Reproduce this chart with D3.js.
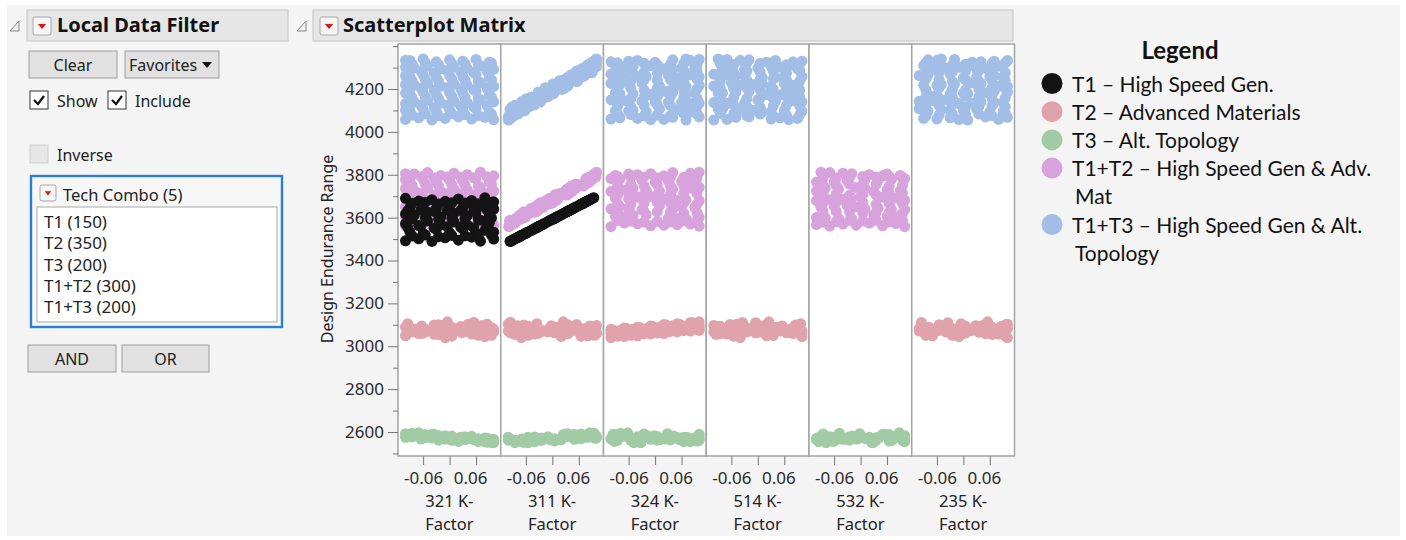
<!DOCTYPE html>
<html>
<head>
<meta charset="utf-8">
<script src="https://cdn.jsdelivr.net/npm/d3@7"></script>
<style>
  body { margin: 0; background: #fff; }
  svg { display: block; }
  text { font-family: "Noto Sans", "DejaVu Sans", sans-serif; fill: #222; }
</style>
</head>
<body>
<div id="vis"></div>
<script>
// ---- data ----
const kNames = ["321", "311", "324", "514", "532", "235"];
const yTicks = [2600, 2800, 3000, 3200, 3400, 3600, 3800, 4000, 4200];
const yMinor = [2500, 2700, 2900, 3100, 3300, 3500, 3700, 3900, 4100, 4300, 4400];
const xTicks = [-0.06, 0, 0.06];
const xTickText = ["-0.06", "", "0.06"];
const filterItems = ["T1 (150)", "T2 (350)", "T3 (200)", "T1+T2 (300)", "T1+T3 (200)"];
const legendLines = [
  ["T1 \u2013 High Speed Gen."],
  ["T2 \u2013 Advanced Materials"],
  ["T3 \u2013 Alt. Topology"],
  ["T1+T2 \u2013 High Speed Gen & Adv.", "Mat"],
  ["T1+T3 \u2013 High Speed Gen & Alt.", "Topology"]
];

// rows: [Design Endurance Range, K-factor values for the columns listed]
const t1Cols = ["321", "311"];
const t1 = [
  [3492,-0.10,-0.093],[3501,-0.07,-0.085],[3489,-0.04,-0.096],[3506,-0.01,-0.080],[3495,0.02,-0.090],[3509,0.05,-0.077],[3490,0.07,-0.095],[3500,0.10,-0.086],
  [3534,-0.09,-0.054],[3526,-0.06,-0.061],[3545,-0.03,-0.044],[3530,0.00,-0.058],[3548,0.03,-0.041],[3528,0.06,-0.060],[3541,0.08,-0.047],[3532,0.10,-0.056],
  [3572,-0.10,-0.019],[3563,-0.07,-0.027],[3585,-0.05,-0.007],[3568,-0.02,-0.022],[3580,0.01,-0.011],[3566,0.04,-0.024],[3588,0.07,-0.004],[3575,0.09,-0.016],
  [3612,-0.08,0.019],[3625,-0.05,0.031],[3603,-0.02,0.010],[3620,0.01,0.026],[3608,0.04,0.015],[3628,0.06,0.033],[3606,0.09,0.013],[3617,-0.10,0.023],
  [3648,-0.09,0.052],[3660,-0.06,0.063],[3642,-0.03,0.047],[3655,0.00,0.059],[3645,0.03,0.049],[3663,0.05,0.066],[3651,0.08,0.055],[3640,0.10,0.045],
  [3690,-0.10,0.091],[3678,-0.07,0.080],[3684,-0.04,0.086],[3676,-0.01,0.078],[3687,0.02,0.088],[3680,0.05,0.082],[3693,0.08,0.094],[3674,0.10,0.076],
  [3514,-0.085,-0.073],[3519,-0.055,-0.068],[3511,-0.025,-0.075],[3517,0.005,-0.070],[3515,0.035,-0.072],[3512,0.065,-0.074],[3518,0.095,-0.069],
  [3555,-0.095,-0.034],[3560,-0.065,-0.030],[3552,-0.035,-0.037],[3558,-0.005,-0.032],[3556,0.025,-0.033],[3553,0.055,-0.036],[3559,0.085,-0.031],
  [3595,-0.085,0.003],[3600,-0.055,0.007],[3592,-0.025,0.000],[3598,0.005,0.006],[3596,0.035,0.004],[3593,0.065,0.001],[3599,0.095,0.007],
  [3632,-0.095,0.037],[3637,-0.065,0.042],[3629,-0.035,0.034],[3635,-0.005,0.040],[3633,0.025,0.038],[3630,0.055,0.035],[3636,0.085,0.041],
  [3667,-0.085,0.070],[3672,-0.055,0.074],[3664,-0.025,0.067],[3670,0.005,0.073],[3668,0.035,0.071],[3665,0.065,0.068],[3671,0.095,0.073]
];

const t2Cols = ["321", "311", "324", "514", "235"];
const t2 = [
  [3040,-0.01,-0.07,-0.10,-0.04,0.10],[3045,0.08,0.02,-0.07,0.10,-0.01],[3049,-0.10,0.08,-0.04,0.02,-0.07],[3057,0.05,-0.04,-0.01,-0.07,0.08],
  [3059,-0.07,0.10,0.02,0.08,0.05],[3067,0.10,-0.01,0.05,-0.10,-0.04],[3071,-0.04,-0.10,0.08,0.05,-0.10],[3074,0.02,0.05,0.10,-0.01,0.02],
  [3051,0.065,0.095,-0.09,0.035,-0.085],[3055,-0.025,-0.085,-0.06,-0.055,0.065],[3063,-0.095,0.005,-0.03,0.065,-0.025],[3067,-0.085,-0.095,0.00,0.005,0.035],
  [3070,0.035,-0.025,0.03,-0.085,0.005],[3079,-0.055,0.065,0.06,0.095,-0.095],[3082,0.095,0.035,0.09,-0.095,-0.055],[3085,0.005,-0.055,0.10,-0.025,0.095],
  [3060,-0.062,-0.032,-0.10,0.1,-0.002],[3064,0.028,0.1,-0.07,-0.002,0.088],[3068,0.088,0.028,-0.05,-0.062,-0.092],[3075,-0.032,-0.062,-0.02,0.088,0.058],
  [3079,0.1,0.088,0.01,0.058,-0.062],[3083,-0.002,-0.092,0.04,-0.032,0.1],[3090,-0.092,0.058,0.07,-0.092,-0.032],[3096,0.058,-0.002,0.10,0.028,0.028],
  [3073,0.1,0.042,-0.08,-0.078,0.072],[3079,-0.078,-0.048,-0.05,0.072,-0.018],[3082,0.012,0.072,-0.02,-0.018,-0.1],[3089,-0.1,0.012,0.01,0.042,-0.078],
  [3096,-0.018,-0.078,0.04,0.012,0.042],[3097,0.072,0.1,0.06,-0.1,-0.048],[3103,0.042,-0.1,0.09,-0.048,0.1],[3071,-0.048,-0.018,-0.10,0.1,0.012],
  [3079,-0.035,0.097,-0.10,-0.005,-0.063],[3085,0.097,-0.005,-0.07,0.085,0.025],[3089,0.025,-0.063,-0.04,-0.095,0.085],[3095,-0.063,0.085,-0.01,0.055,-0.035],
  [3102,0.085,0.055,0.02,-0.063,0.097],[3105,-0.095,-0.035,0.05,0.097,-0.005],[3111,0.055,-0.095,0.08,-0.035,-0.095],[3114,-0.005,0.025,0.10,0.025,0.055],
  [3047,0.005,0.065,-0.085,-0.055,0.095],[3051,0.095,-0.055,-0.055,0.035,-0.025],[3058,-0.025,0.035,-0.025,-0.085,0.065],[3062,0.065,-0.085,0.005,0.095,0.005],
  [3069,-0.055,0.095,0.035,0.005,-0.085],[3073,0.035,-0.025,0.065,0.065,-0.055],[3080,-0.085,0.005,0.095,-0.025,0.035],
  [3056,-0.035,0.025,-0.095,-0.095,-0.005],[3063,0.055,-0.095,-0.065,-0.005,0.085],[3067,-0.005,0.085,-0.035,-0.065,-0.035],[3074,-0.065,-0.035,-0.005,0.025,0.055],
  [3078,0.025,0.055,0.025,-0.035,-0.065],[3085,-0.095,-0.005,0.055,0.085,0.025],[3089,0.085,-0.065,0.085,0.055,-0.095],
  [3066,-0.055,0.095,-0.085,-0.025,0.035],[3073,0.035,-0.025,-0.055,0.065,-0.085],[3078,-0.085,0.065,-0.025,0.005,0.095],[3082,0.095,0.005,0.005,-0.055,-0.025],
  [3089,0.005,-0.085,0.035,0.035,0.065],[3093,0.065,-0.055,0.065,-0.085,0.005],[3100,-0.025,0.035,0.095,0.095,-0.055],
  [3076,-0.095,-0.005,-0.095,0.055,-0.065],[3083,-0.005,0.085,-0.065,-0.065,0.025],[3088,-0.065,-0.035,-0.035,0.025,-0.095],[3092,0.025,0.055,-0.005,-0.095,0.085],
  [3099,-0.035,-0.065,0.025,0.085,-0.005],[3103,0.085,0.025,0.055,-0.035,0.055],[3110,0.055,-0.095,0.085,-0.005,-0.035]
];

const t3Cols = ["321", "311", "324", "532"];
const t3 = [
  [2575,-0.10,-0.10,0.05,0.02],[2578,-0.07,-0.01,-0.04,-0.07],[2589,-0.04,0.08,0.10,0.05],[2567,-0.01,-0.07,-0.10,-0.01],
  [2570,0.02,0.02,0.02,-0.10],[2580,0.05,0.10,-0.07,0.08],[2555,0.08,-0.04,0.08,0.10],[2566,0.10,0.05,-0.01,-0.04],
  [2577,-0.085,-0.04,0.095,-0.085],[2588,-0.055,0.05,-0.085,0.065],[2562,-0.025,-0.10,0.005,-0.025],[2573,0.005,-0.01,-0.095,0.035],
  [2575,0.035,0.08,-0.025,0.005],[2555,0.065,-0.07,0.065,-0.095],[2563,0.095,0.02,0.035,-0.055],[2571,0.085,0.10,-0.055,0.095],
  [2592,-0.10,0.035,0.028,-0.002],[2596,-0.07,0.085,-0.062,0.088],[2572,-0.04,-0.025,0.058,-0.092],[2583,-0.01,0.065,-0.002,0.058],
  [2556,0.02,-0.085,-0.092,-0.062],[2568,0.05,0.005,0.088,0.1],[2572,0.08,0.095,0.1,-0.032],[2550,0.10,-0.055,-0.032,0.028],
  [2594,-0.085,0.095,-0.078,-0.048],[2575,-0.055,-0.055,0.072,0.042],[2583,-0.025,0.035,-0.018,0.1],[2581,0.005,0.085,0.042,-0.018],
  [2565,0.035,-0.025,0.012,-0.1],[2569,0.065,0.065,-0.1,0.012],[2550,0.095,-0.085,-0.048,-0.078],[2562,0.085,0.005,0.1,0.072],
  [2591,-0.085,0.065,-0.025,-0.085],[2574,-0.055,-0.055,0.065,0.005],[2579,-0.025,0.035,0.005,-0.055],[2561,0.005,-0.085,-0.055,0.035],
  [2578,0.035,0.095,0.035,-0.025],[2561,0.065,-0.025,-0.085,0.095],[2558,0.095,0.005,0.095,0.065],
  [2588,-0.095,0.025,-0.065,0.085],[2567,-0.065,-0.095,0.025,-0.035],[2589,-0.035,0.085,-0.095,0.055],[2569,-0.005,-0.035,0.085,-0.005],
  [2575,0.025,0.055,-0.005,-0.095],[2565,0.055,-0.005,0.055,-0.065],[2552,0.085,-0.065,-0.035,0.025]
];

const t12Cols = ["321", "311", "324", "532"];
const t12 = [
  [3562,-0.10,-0.097,-0.01,0.05],[3570,-0.07,-0.090,0.08,-0.04],[3558,-0.04,-0.099,-0.10,0.10],[3567,-0.01,-0.094,0.05,-0.10],
  [3575,0.02,-0.085,-0.07,0.02],[3560,0.05,-0.098,0.10,-0.07],[3572,0.08,-0.092,-0.04,0.08],[3565,0.10,-0.095,0.02,-0.01],
  [3598,-0.09,-0.072,0.03,-0.08],[3606,-0.06,-0.076,-0.09,0.06],[3594,-0.03,-0.070,0.07,-0.02],[3610,0.00,-0.074,-0.05,0.09],
  [3601,0.03,-0.062,0.10,-0.10],[3613,0.06,-0.073,-0.02,0.03],[3596,0.09,-0.083,0.05,-0.05],[3604,-0.10,-0.063,-0.07,0.07],
  [3641,-0.08,-0.031,-0.10,0.01],[3652,-0.05,-0.038,0.06,-0.06],[3637,-0.02,-0.046,-0.03,0.10],[3648,0.01,-0.021,0.09,-0.09],
  [3644,0.04,-0.048,-0.06,0.04],[3655,0.07,-0.023,0.01,-0.03],[3639,0.10,-0.030,0.04,0.07],[3650,-0.10,-0.036,-0.08,-0.01],
  [3683,-0.09,0.009,0.07,-0.07],[3695,-0.06,0.003,-0.04,0.05],[3679,-0.03,-0.015,0.10,-0.10],[3691,0.00,0.014,-0.09,0.08],
  [3686,0.03,-0.001,0.02,-0.04],[3698,0.06,0.015,-0.01,0.00],[3681,0.09,0.009,0.05,0.10],[3689,-0.10,-0.008,-0.06,-0.02],
  [3726,-0.08,0.030,-0.02,0.09],[3738,-0.05,0.054,0.08,-0.08],[3722,-0.02,0.045,-0.10,0.03],[3733,0.01,0.034,0.04,-0.05],
  [3729,0.04,0.044,-0.07,0.06],[3741,0.07,0.046,0.10,-0.01],[3724,0.10,0.045,0.01,-0.10],[3736,-0.10,0.035,-0.05,0.01],
  [3768,-0.09,0.081,0.06,-0.06],[3779,-0.06,0.076,-0.08,0.07],[3764,-0.03,0.083,0.09,-0.09],[3775,0.00,0.077,-0.03,0.04],
  [3771,0.03,0.086,0.03,-0.03],[3782,0.06,0.077,-0.10,0.10],[3766,0.09,0.076,0.00,-0.10],[3777,-0.10,0.090,0.07,0.01],
  [3803,-0.08,0.095,-0.06,0.06],[3810,-0.05,0.100,0.04,-0.07],[3797,-0.02,0.092,-0.09,0.09],[3807,0.01,0.098,0.08,-0.04],
  [3800,0.04,0.094,-0.04,0.02],[3812,0.07,0.100,0.10,-0.09],[3795,0.10,0.090,0.02,0.05],[3805,-0.10,0.097,-0.01,-0.02],
  [3582,-0.085,-0.083,0.005,-0.055],[3588,-0.055,-0.096,0.095,0.035],[3579,-0.025,-0.082,-0.025,-0.085],[3586,0.005,-0.084,0.065,0.095],
  [3584,0.035,-0.097,-0.055,0.005],[3580,0.065,-0.083,0.035,0.065],[3587,0.095,-0.093,-0.085,-0.025],
  [3623,-0.095,-0.064,0.095,0.035],[3629,-0.065,-0.037,-0.025,-0.085],[3620,-0.035,-0.051,0.065,0.095],[3627,-0.005,-0.065,0.005,-0.025],
  [3625,0.025,-0.043,-0.085,0.065],[3621,0.055,-0.060,-0.055,0.005],[3628,0.085,-0.036,0.035,-0.055],
  [3665,-0.085,-0.005,-0.085,0.065],[3671,-0.055,-0.020,0.005,-0.055],[3662,-0.025,-0.032,-0.055,0.035],[3669,0.005,0.001,0.035,-0.085],
  [3667,0.035,-0.011,-0.025,0.095],[3663,0.065,-0.009,0.095,-0.025],[3670,0.095,-0.027,0.065,0.005],
  [3708,-0.095,0.009,-0.025,0.005],[3714,-0.065,0.037,0.065,0.095],[3705,-0.035,0.033,0.005,-0.025],[3712,-0.005,0.017,-0.055,0.065],
  [3710,0.025,0.029,0.035,-0.055],[3706,0.055,0.006,-0.085,0.035],[3713,0.085,0.038,0.095,-0.085],
  [3750,-0.085,0.069,0.065,0.095],[3756,-0.055,0.052,-0.055,-0.025],[3747,-0.025,0.070,0.035,0.065],[3754,0.005,0.057,-0.085,0.005],
  [3752,0.035,0.065,0.095,-0.085],[3748,0.065,0.043,-0.025,-0.055],[3755,0.095,0.075,0.005,0.035],
  [3787,-0.095,0.082,0.035,-0.085],[3792,-0.065,0.090,-0.085,0.005],[3785,-0.035,0.078,0.095,-0.055],[3790,-0.005,0.099,-0.025,0.035],
  [3788,0.025,0.085,0.065,-0.025],[3786,0.055,0.093,0.005,0.095],[3791,0.085,0.088,-0.055,0.065]
];

const t13Cols = ["321", "311", "324", "514", "235"];
const t13 = [
  [4058,-0.10,-0.100,0.02,-0.07,0.08],[4066,-0.07,-0.094,-0.08,0.05,-0.03],[4055,-0.04,-0.099,0.07,-0.10,0.01],[4063,-0.01,-0.097,-0.04,0.09,-0.09],
  [4070,0.02,-0.090,0.10,-0.02,0.05],[4060,0.05,-0.100,-0.10,0.03,-0.06],[4068,0.08,-0.092,0.04,-0.05,0.10],[4057,0.10,-0.098,-0.01,0.07,-0.01],
  [4097,-0.09,-0.077,-0.06,0.10,-0.08],[4106,-0.06,-0.096,0.09,-0.08,0.03],[4094,-0.03,-0.072,-0.02,0.01,0.09],[4103,0.00,-0.094,0.05,-0.04,-0.05],
  [4099,0.03,-0.062,-0.09,0.06,0.00],[4108,0.06,-0.084,0.01,-0.09,-0.10],[4092,0.09,-0.086,0.08,0.03,0.06],[4101,-0.10,-0.067,-0.05,-0.01,-0.03],
  [4138,-0.08,-0.070,0.03,-0.06,0.07],[4146,-0.05,-0.034,-0.07,0.08,-0.07],[4134,-0.02,-0.041,0.10,-0.03,0.02],[4143,0.01,-0.068,-0.03,0.04,-0.10],
  [4137,0.04,-0.050,0.06,-0.10,0.09],[4149,0.07,-0.051,-0.10,0.00,-0.04],[4140,0.10,-0.027,0.00,0.10,0.04],[4132,-0.10,-0.070,0.08,-0.07,-0.01],
  [4178,-0.09,0.003,-0.08,0.07,0.01],[4186,-0.06,-0.032,0.04,-0.05,0.10],[4174,-0.03,-0.012,-0.01,0.02,-0.08],[4183,0.00,-0.024,0.09,-0.09,0.05],
  [4177,0.03,-0.002,-0.05,0.09,-0.03],[4189,0.06,-0.011,0.02,-0.02,0.07],[4172,0.09,-0.028,0.07,0.05,-0.06],[4181,-0.10,-0.002,-0.09,-0.08,0.00],
  [4218,-0.08,0.004,0.05,-0.04,-0.09],[4226,-0.05,0.038,-0.10,0.06,0.04],[4214,-0.02,0.035,0.01,-0.10,0.08],[4223,0.01,0.001,-0.06,0.01,-0.02],
  [4217,0.04,0.024,0.10,0.08,-0.06],[4229,0.07,0.019,-0.03,-0.06,0.02],[4212,0.10,0.023,0.07,0.03,0.10],[4221,-0.10,0.003,-0.08,-0.01,-0.05],
  [4258,-0.09,0.070,-0.02,0.10,0.06],[4266,-0.06,0.042,0.08,-0.07,-0.08],[4254,-0.03,0.055,-0.07,0.04,0.03],[4263,0.00,0.073,0.03,-0.03,-0.10],
  [4257,0.03,0.043,0.10,0.06,0.09],[4269,0.06,0.072,-0.10,-0.10,-0.03],[4252,0.09,0.033,0.05,0.01,0.00],[4261,-0.10,0.059,-0.04,-0.05,0.07],
  [4298,-0.08,0.080,0.06,-0.08,-0.04],[4306,-0.05,0.094,-0.09,0.03,0.08],[4294,-0.02,0.066,0.02,0.09,-0.07],[4303,0.01,0.100,-0.05,-0.06,0.01],
  [4297,0.04,0.075,0.09,0.00,0.05],[4309,0.07,0.092,-0.01,0.07,-0.09],[4292,0.10,0.082,0.04,-0.03,0.03],[4301,-0.10,0.075,-0.07,0.05,-0.01],
  [4333,-0.09,0.097,-0.04,0.04,0.10],[4340,-0.06,0.100,0.07,-0.09,-0.05],[4327,-0.03,0.093,-0.10,0.08,0.04],[4336,0.00,0.099,0.04,-0.02,-0.08],
  [4330,0.03,0.095,-0.06,0.10,0.07],[4338,0.06,0.100,0.10,-0.07,-0.02],[4325,0.09,0.090,0.00,0.02,0.02],[4334,-0.10,0.098,0.08,-0.04,-0.06],
  [4078,-0.085,-0.088,0.005,0.065,-0.055],[4084,-0.055,-0.093,0.095,-0.055,0.035],[4075,-0.025,-0.095,-0.025,0.035,-0.085],[4086,0.005,-0.080,0.065,-0.085,0.095],
  [4081,0.035,-0.085,-0.055,0.095,0.005],[4076,0.065,-0.099,0.035,-0.025,0.065],[4083,0.095,-0.078,-0.085,0.005,-0.025],
  [4118,-0.095,-0.052,0.095,-0.025,0.035],[4124,-0.065,-0.085,-0.025,0.065,-0.085],[4115,-0.035,-0.068,0.065,0.005,0.095],[4126,-0.005,-0.041,0.005,-0.055,-0.025],
  [4121,0.025,-0.080,-0.085,0.035,0.065],[4116,0.055,-0.092,-0.055,-0.085,0.005],[4123,0.085,-0.056,0.035,0.095,-0.055],
  [4158,-0.085,-0.050,-0.085,0.005,0.095],[4164,-0.055,-0.009,0.005,0.095,-0.025],[4155,-0.025,-0.059,-0.055,-0.025,0.065],[4166,0.005,-0.020,0.035,0.065,0.005],
  [4161,0.035,-0.017,-0.025,-0.055,-0.085],[4156,0.065,-0.041,0.095,0.035,-0.055],[4163,0.095,-0.048,0.065,-0.085,0.035],
  [4198,-0.095,0.021,0.065,0.035,-0.025],[4204,-0.065,-0.012,-0.055,-0.085,0.065],[4195,-0.035,0.008,0.035,0.095,0.005],[4206,-0.005,-0.016,-0.085,-0.025,-0.055],
  [4201,0.025,0.020,0.095,0.065,0.035],[4196,0.055,-0.013,-0.025,0.005,-0.085],[4203,0.085,0.027,0.005,-0.055,0.095],
  [4238,-0.085,0.016,-0.055,-0.085,0.065],[4244,-0.055,0.054,0.035,0.005,-0.055],[4235,-0.025,0.056,-0.085,-0.055,0.035],[4246,0.005,0.034,0.095,0.035,-0.085],
  [4241,0.035,0.023,0.005,-0.025,0.095],[4236,0.065,0.043,0.065,0.095,-0.025],[4243,0.095,0.059,-0.025,0.065,0.005],
  [4278,-0.095,0.087,-0.025,-0.055,-0.085],[4284,-0.065,0.055,0.065,0.035,0.005],[4275,-0.035,0.059,0.005,-0.085,-0.055],[4286,-0.005,0.091,-0.055,0.095,0.035],
  [4281,0.025,0.057,0.035,0.005,-0.025],[4276,0.055,0.090,-0.085,0.065,0.095],[4283,0.085,0.072,0.095,-0.025,0.065],
  [4316,-0.085,0.088,0.035,0.095,0.005],[4322,-0.055,0.096,-0.085,-0.025,0.095],[4313,-0.025,0.080,0.095,0.065,-0.025],[4320,0.005,0.099,-0.025,0.005,0.065],
  [4318,0.035,0.092,0.065,-0.085,-0.055],[4314,0.065,0.085,0.005,-0.055,0.035],[4321,0.095,0.100,-0.055,0.035,-0.085]
];

// ---- styles ----
const colors = ["#141414", "#e0a3ab", "#a1cba4", "#d8a2dc", "#a2bee6"]; // T1, T2, T3, T1+T2, T1+T3
const W = 1406, H = 540;
const plot = { left: 398, right: 1014.5, top: 44, bottom: 456 };
const cellW = (plot.right - plot.left) / kNames.length;
const dotR = 5.5;

const svg = d3.select("#vis").append("svg").attr("width", W).attr("height", H);
svg.append("rect").attr("x", 7).attr("y", 5).attr("width", 1393).attr("height", 531).attr("fill", "#f4f4f4");

//---------- small helpers for the JMP-style controls
function disclosure(x, y) {
  svg.append("path").attr("d", `M${x + 9},${y} L${x + 9},${y + 10} L${x},${y + 10} Z`)
    .attr("fill", "#eee").attr("stroke", "#888").attr("stroke-width", 1);
}
function redButton(x, y, s) {
  svg.append("rect").attr("x", x).attr("y", y).attr("width", s).attr("height", s).attr("rx", 2)
    .attr("fill", "#f6f6f6").attr("stroke", "#a8a8a8");
  svg.append("path").attr("d", `M${x + 4},${y + s * 0.36} L${x + s - 4},${y + s * 0.36} L${x + s / 2},${y + s * 0.7} Z`)
    .attr("fill", "#d11a1a").attr("stroke", "#fff").attr("stroke-width", 0.8);
}
function button(x, y, w, h, label) {
  svg.append("rect").attr("x", x).attr("y", y).attr("width", w).attr("height", h)
    .attr("fill", "#e1e1e1").attr("stroke", "#9e9e9e");
  svg.append("text").attr("x", x + w / 2).attr("y", y + h / 2 + 6).attr("text-anchor", "middle")
    .style("font-size", "16px").text(label);
}
function checkbox(x, y, checked, disabled) {
  svg.append("rect").attr("x", x).attr("y", y).attr("width", 18).attr("height", 18)
    .attr("fill", disabled ? "#e6e6e6" : "#fff").attr("stroke", disabled ? "#cfcfcf" : "#333");
  if (checked) {
    svg.append("path").attr("d", `M${x + 4},${y + 9} L${x + 8},${y + 13} L${x + 14},${y + 5}`)
      .attr("fill", "none").attr("stroke", "#111").attr("stroke-width", 2.2);
  }
}
function header(x, w, title) {
  svg.append("rect").attr("x", x).attr("y", 10).attr("width", w).attr("height", 31)
    .attr("fill", "#e6e6e6").attr("stroke", "#c4c4c4");
  svg.append("text").attr("x", x + 30).attr("y", 32).style("font-size", "20px").style("font-weight", "bold")
    .style("fill", "#111").text(title);
}

// ---------- left panel: Local Data Filter
disclosure(10, 21);
header(27, 261, "Local Data Filter");
redButton(33, 17, 18);
button(29, 51, 88, 27, "Clear");
button(125, 51, 94, 27, "");
svg.append("text").attr("x", 129).attr("y", 71).style("font-size", "16px").text("Favorites");
svg.append("path").attr("d", "M202,62 L212,62 L207,68 Z").attr("fill", "#111");
checkbox(30, 91, true, false);
svg.append("text").attr("x", 57).attr("y", 107).style("font-size", "16px").text("Show");
checkbox(108, 91, true, false);
svg.append("text").attr("x", 135).attr("y", 107).style("font-size", "16px").text("Include");
checkbox(30, 145, false, true);
svg.append("text").attr("x", 57).attr("y", 161).style("font-size", "16px").text("Inverse");

svg.append("rect").attr("x", 31).attr("y", 176).attr("width", 251).attr("height", 151)
  .attr("fill", "#f7f7f7").attr("stroke", "#2b7fd0").attr("stroke-width", 2.4);
redButton(40, 185, 16);
svg.append("text").attr("x", 63).attr("y", 201).style("font-size", "16.5px").text("Tech Combo (5)");
svg.append("rect").attr("x", 37).attr("y", 207).attr("width", 240).attr("height", 115)
  .attr("fill", "#fff").attr("stroke", "#a9a9a9");
svg.selectAll("text.item").data(filterItems).enter().append("text").attr("class", "item")
  .attr("x", 44).attr("y", (d, i) => 228 + i * 21.3).style("font-size", "17px").text(d => d);

button(28, 345, 88, 27, "AND");
button(122, 345, 87, 27, "OR");

// ---------- scatterplot matrix
disclosure(297, 21);
header(313, 700, "Scatterplot Matrix");
redButton(320, 17, 18);

const y = d3.scaleLinear().domain([2488, 4410]).range([plot.bottom, plot.top]);

const series = [
  { rows: t13, cols: t13Cols, color: colors[4] },
  { rows: t12, cols: t12Cols, color: colors[3] },
  { rows: t2, cols: t2Cols, color: colors[1] },
  { rows: t3, cols: t3Cols, color: colors[2] },
  { rows: t1, cols: t1Cols, color: colors[0] }
];

kNames.forEach((k, c) => {
  const x0 = plot.left + c * cellW;
  const x = d3.scaleLinear().domain([-0.117, 0.116]).range([x0, x0 + cellW]);
  const cell = svg.append("g");
  cell.append("rect").attr("x", x0).attr("y", plot.top).attr("width", cellW).attr("height", plot.bottom - plot.top)
    .attr("fill", "#fff");

  series.forEach(s => {
    const j = s.cols.indexOf(k);
    if (j < 0) return;
    cell.append("g").selectAll("circle").data(s.rows).enter().append("circle")
      .attr("cx", d => x(d[j + 1])).attr("cy", d => y(d[0])).attr("r", dotR)
      .attr("fill", s.color);
  });

  cell.append("rect").attr("x", x0).attr("y", plot.top).attr("width", cellW).attr("height", plot.bottom - plot.top)
    .attr("fill", "none").attr("stroke", "#a3a3a3").attr("stroke-width", 1.5);

  // x axis of this column
  const ax = svg.append("g").attr("transform", `translate(0,${plot.bottom})`)
    .call(d3.axisBottom(x).tickValues(xTicks).tickSize(9).tickFormat((d, i) => xTickText[i]));
  ax.select(".domain").remove();
  ax.selectAll("line").attr("stroke", "#777");
  ax.selectAll("text").attr("y", 28).attr("dy", null).style("font-size", "17px").style("fill", "#2a2a2a")
    .attr("dx", (d, i) => i === 2 ? -6 : 0).style("font-family", "'Noto Sans', sans-serif");

  const cx = x0 + cellW / 2;
  svg.append("text").attr("x", cx).attr("y", 507).attr("text-anchor", "middle").style("font-size", "16.5px").text(k + " K-");
  svg.append("text").attr("x", cx).attr("y", 530).attr("text-anchor", "middle").style("font-size", "16.5px").text("Factor");
});

// y axis
const ay = svg.append("g").attr("transform", `translate(${plot.left},0)`)
  .call(d3.axisLeft(y).tickValues(yTicks).tickSize(10).tickPadding(4).tickFormat(d3.format("d")));
ay.select(".domain").remove();
ay.selectAll("line").attr("stroke", "#777");
ay.selectAll("text").style("font-size", "17px").style("fill", "#2a2a2a").style("font-family", "'Noto Sans', sans-serif");
const ayMinor = svg.append("g").attr("transform", `translate(${plot.left},0)`)
  .call(d3.axisLeft(y).tickValues(yMinor).tickSize(5).tickFormat(""));
ayMinor.select(".domain").remove();
ayMinor.selectAll("line").attr("stroke", "#777");

svg.append("text").attr("transform", "translate(333,249) rotate(-90)").attr("text-anchor", "middle")
  .style("font-size", "16px").text("Design Endurance Range");

// ---------- legend
svg.append("text").attr("x", 1180).attr("y", 59).attr("text-anchor", "middle")
  .style("font-family", "Lato, sans-serif").style("font-size", "24px").style("font-weight", "bold").style("fill", "#111")
  .text("Legend");
let row = 0;
legendLines.forEach((lines, i) => {
  const cy = 83.5 + row * 28.2;
  svg.append("circle").attr("cx", 1052).attr("cy", cy).attr("r", 10.5).attr("fill", colors[i]);
  lines.forEach((t, l) => {
    svg.append("text").attr("x", l === 0 ? 1072 : 1075).attr("y", cy + 8 + l * 28.2)
      .style("font-family", "Lato, sans-serif").style("font-size", "21px").style("fill", "#111").text(t);
  });
  row += lines.length;
});
</script>
</body>
</html>
